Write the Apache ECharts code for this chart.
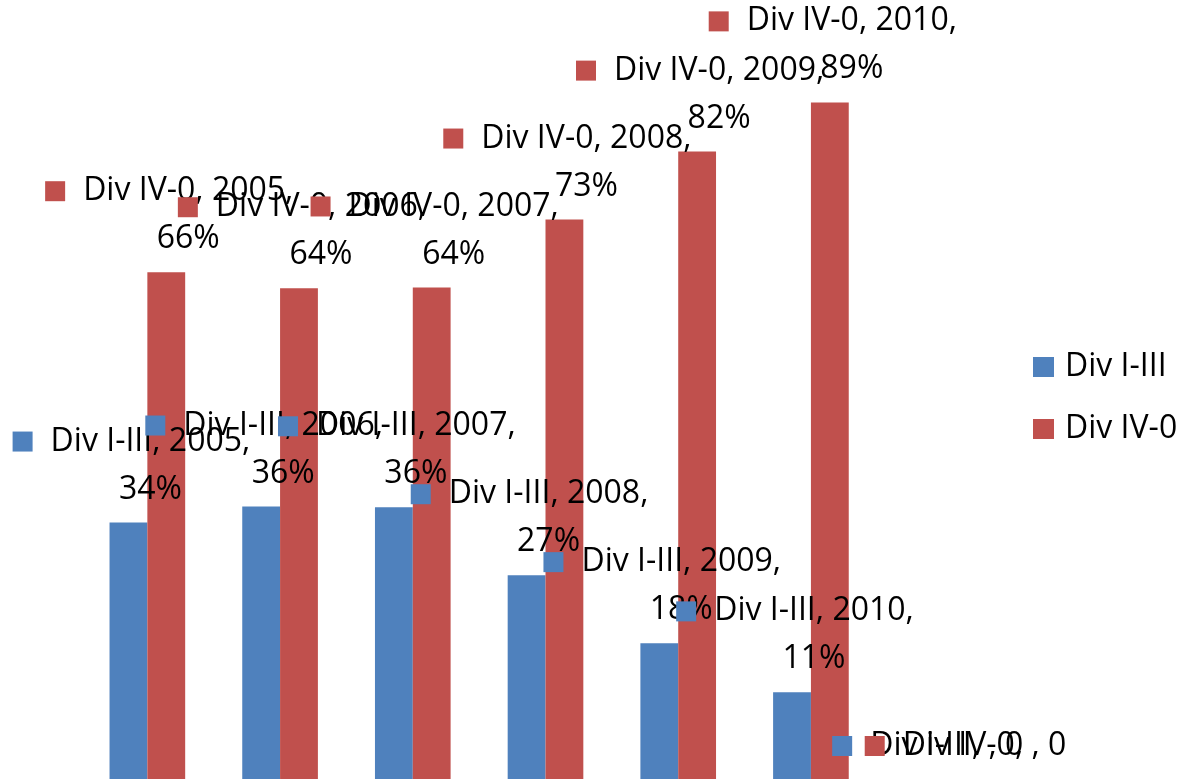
<!DOCTYPE html>
<html>
<head>
<meta charset="utf-8">
<script src="https://cdn.jsdelivr.net/npm/echarts@6/dist/echarts.min.js"></script>
<style>
  html, body { margin: 0; padding: 0; background: #ffffff; }
  #chart { width: 1190px; height: 779px; }
</style>
</head>
<body>
<div id="chart"></div>
<script>
// ---- data ----
const categories = ['2005', '2006', '2007', '2008', '2009', '2010', ''];
const seriesNames = ['Div I-III', 'Div IV-0'];
const divI_III = [0.336, 0.357, 0.356, 0.267, 0.178, 0.1135, 0];
const divIV_0  = [0.664, 0.643, 0.644, 0.733, 0.822, 0.8865, 0];

// ---- styling ----
const COLORS = ['#4F81BD', '#C0504D'];
const FONT = '"Open Sans", "Noto Sans", sans-serif';
const FS = 32;
const LH = 48;

function makeLabel(color) {
  return {
    show: true,
    position: 'top',
    distance: 9,
    offset: [3, 0],
    align: 'center',
    lineHeight: LH,
    fontFamily: FONT,
    fontSize: FS,
    color: '#000',
    formatter: function (p) {
      const v = p.value;
      const txt = v === 0 ? '0' : Math.round(v * 100) + '%';
      if (v === 0) {
        return '{k|}{sp|}{t|' + p.seriesName + ', ' + p.name + ', ' + txt + '}';
      }
      return '{k|}{sp|}{t|' + p.seriesName + ', ' + p.name + ',}\n{sp2|}{t|' + txt + '}';
    },
    rich: {
      k: { width: 20, height: 20, backgroundColor: color, lineHeight: LH },
      sp: { width: 18, lineHeight: LH },
      sp2: { width: 38, lineHeight: LH },
      t: { fontFamily: FONT, fontSize: FS, color: '#000', lineHeight: LH }
    }
  };
}

const chart = echarts.init(document.getElementById('chart'), null, { renderer: 'canvas' });
chart.setOption({
  animation: false,
  backgroundColor: '#ffffff',
  color: COLORS,
  grid: { left: 81, width: 929, top: 15.75, height: 765, containLabel: false },
  legend: {
    orient: 'vertical',
    left: 1033,
    top: 351,
    padding: 0,
    itemWidth: 21,
    itemHeight: 20,
    itemGap: 30,
    icon: 'rect',
    data: seriesNames,
    textStyle: { fontFamily: FONT, fontSize: FS, color: '#000', padding: [0, 0, 0, 6] }
  },
  xAxis: {
    type: 'category',
    data: categories,
    show: false
  },
  yAxis: {
    type: 'value',
    min: 0,
    max: 1,
    show: false,
    splitLine: { show: false }
  },
  series: [
    {
      name: seriesNames[0],
      type: 'bar',
      data: divI_III,
      barGap: '0%',
      barCategoryGap: '43%',
      itemStyle: { color: COLORS[0] },
      label: makeLabel(COLORS[0])
    },
    {
      name: seriesNames[1],
      type: 'bar',
      data: divIV_0,
      barGap: '0%',
      barCategoryGap: '43%',
      itemStyle: { color: COLORS[1] },
      label: makeLabel(COLORS[1])
    }
  ]
});
</script>
</body>
</html>
